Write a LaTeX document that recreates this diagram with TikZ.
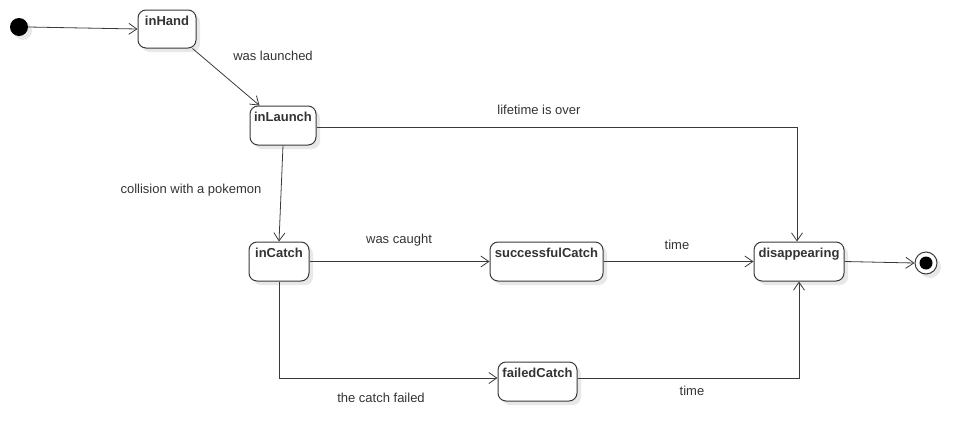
\documentclass[tikz,border=0pt]{standalone}
\usepackage{fontspec}
\setmainfont{Liberation Sans}
\usetikzlibrary{arrows.meta,shadows}
\definecolor{ln}{HTML}{3A3A3A}
\definecolor{tx}{HTML}{333333}
\tikzset{
  shd/.style={drop shadow={opacity=0.18, shadow xshift=4pt, shadow yshift=-4pt}},
  stbox/.style={draw=ln, line width=1pt, rounded corners=8pt, fill=white, shd, inner sep=0pt},
  sttext/.style={font=\bfseries\fontsize{13}{15}\selectfont, text=tx, inner sep=0pt, anchor=north},
  arr/.style={draw=ln, line width=0.8pt, -{Straight Barb[length=8pt,width=11pt]}},
  lbl/.style={font=\fontsize{13}{15}\selectfont, text=tx, inner sep=0pt},
}
\begin{document}
\begin{tikzpicture}[x=1pt,y=-1pt]
\useasboundingbox (0,0) rectangle (979,445);
% states
\node[stbox, minimum width=58pt, minimum height=38pt] (inHand) at (167,29) {};
\node[sttext] (tHand) at ([yshift=-6pt]inHand.north) {inHand};
\node[stbox, minimum width=66pt, minimum height=39pt] (inLaunch) at (283,125.5) {};
\node[sttext] (tLaunch) at ([yshift=-6pt]inLaunch.north) {inLaunch};
\node[stbox, minimum width=60pt, minimum height=39pt] (inCatch) at (279,261.5) {};
\node[sttext] (tCatch) at ([yshift=-6pt]inCatch.north) {inCatch};
\node[stbox, minimum width=113pt, minimum height=39pt] (succ) at (546.5,261.5) {};
\node[sttext] (tSucc) at ([yshift=-6pt]succ.north) {successfulCatch};
\node[stbox, minimum width=79pt, minimum height=39pt] (fail) at (537.5,381.5) {};
\node[sttext] (tFail) at ([yshift=-6pt]fail.north) {failedCatch};
\node[stbox, minimum width=90pt, minimum height=39pt] (dis) at (799,261.5) {};
\node[sttext] (tDis) at ([yshift=-6pt]dis.north) {disappearing};
% initial and final
\node[circle, fill=black, minimum size=18pt, inner sep=0pt, shd] (init) at (19,27) {};
\node[circle, draw=ln, line width=1pt, fill=white, minimum size=22pt, inner sep=0pt, shd] (fin) at (926,263) {};
\node[circle, fill=black, minimum size=13pt, inner sep=0pt] (finin) at (fin.center) {};
% transitions
\draw[arr] (init.east) -- (inHand.west);
\draw[arr] ([xshift=-4pt]inHand.south east) -- ([xshift=10pt]inLaunch.north west);
\node[lbl] (l1) at (273,56) {was launched};
\draw[arr] ([yshift=-1.5pt]inLaunch.east) -| ([xshift=-2pt]dis.north);
\node[lbl] (l2) at (539,110) {lifetime is over};
\draw[arr] (inLaunch.south) -- (inCatch.north);
\node[lbl] (l3) at (191,190) {collision with a pokemon};
\draw[arr] (inCatch.east) -- (succ.west);
\node[lbl] (l4) at (399,240) {was caught};
\draw[arr] (succ.east) -- (dis.west);
\node[lbl] (l5) at (677,245) {time};
\draw[arr] (inCatch.south) |- ([yshift=3.5pt]fail.west);
\node[lbl] (l6) at (381,398) {the catch failed};
\draw[arr] ([yshift=3.5pt]fail.east) -| (dis.south);
\node[lbl] (l7) at (692,391) {time};
\draw[arr] (dis.east) -- (fin.west);
\end{tikzpicture}
\end{document}
